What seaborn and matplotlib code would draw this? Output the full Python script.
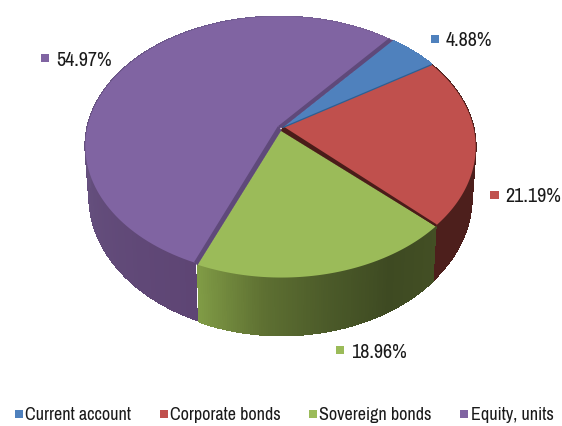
import numpy as np
import matplotlib
matplotlib.use("Agg")
import matplotlib.pyplot as plt
from matplotlib import font_manager as fm
from matplotlib.collections import PolyCollection
from matplotlib.colors import to_rgb
from matplotlib.lines import Line2D
import seaborn as sns

categories = ["Current account", "Corporate bonds", "Sovereign bonds", "Equity, units"]
shares = [4.88, 21.19, 18.96, 54.97]
colors = ["#4f81bd", "#c0504d", "#9bbb59", "#8064a2"]
label_x = [435, 494.5, 340, 45]
label_y = [39, 195, 350, 58]

sns.set_theme(style="white")
narrow = sorted({f.name for f in fm.fontManager.ttflist if "Narrow" in f.name or "Condensed" in f.name})
family = narrow[0] if narrow else "Liberation Sans"
plt.rcParams["font.family"] = [family, "DejaVu Sans"]

W, H = 562, 426
fig = plt.figure(figsize=(W / 100, H / 100), dpi=100)
ax = fig.add_axes([0, 0, 1, 1])
ax.set_xlim(0, W)
ax.set_ylim(H, 0)
ax.axis("off")

# perspective projection of the unit disc
CX, CY, B, A, K = 281, 128, 191.5, 126.6, 0.1506
WALL_SCALE_X, WALL_SCALE_Y, WALL_DROP = 0.98, 1.06, 49
START = 40
offsets = [(1.5, -0.5), (1, -0.5), (0.5, 0.5), (-2, -1.5)]
tips = [(283, 127.5), (283, 127.5), (281, 131), (279, 127)]
wall_stops = [
    ["#4f81bd", "#4f81bd"],
    ["#4d1f1c", "#4d1f1c"],
    ["#434f24", "#3e4a22", "#4b5a29", "#5e7032", "#7f9a45"],
    ["#5e4574", "#66517f", "#6e5a8e", "#7c6399"],
]


def project(theta_deg):
    t = np.radians(theta_deg)
    u, v = np.sin(t), np.cos(t)
    d = 1 + K * v
    return B * u / d, -A * v / d


bounds = START + np.cumsum([0] + shares) * 3.6
rims = []
for i, (a0, a1) in enumerate(zip(bounds[:-1], bounds[1:])):
    th = np.linspace(a0, a1, 120)
    x, y = project(th)
    ox, oy = offsets[i]
    top = np.column_stack([x + CX + ox, y + CY + oy])
    low = np.column_stack([x * WALL_SCALE_X + CX + ox, y * WALL_SCALE_Y + CY + oy + WALL_DROP])
    stops = np.array([to_rgb(c) for c in wall_stops[i]])
    f = np.linspace(0, 1, len(th) - 1)
    pos = np.linspace(0, 1, len(stops))
    seg_col = np.column_stack([np.interp(f, pos, stops[:, c]) for c in range(3)])
    quads = [np.vstack([top[j], top[j + 1], low[j + 1], low[j]]) for j in range(len(th) - 1)]
    ax.add_collection(PolyCollection(quads, facecolors=seg_col, edgecolors=seg_col,
                                     linewidths=0.6, antialiaseds=False))
    rims.append(top)


# exposed cut faces between slices, each filling the gap between two neighbouring edges
def band(tip_a, rim_a, tip_b, rim_b, color):
    xs = [tip_a[0], rim_a[0], rim_b[0], tip_b[0]]
    ys = [tip_a[1], rim_a[1], rim_b[1], tip_b[1]]
    ax.fill(xs, ys, color=color, lw=0.8, zorder=2)


band(tips[1], rims[1][-1], tips[2], rims[2][0], "#4a1c19")
band(tips[2], rims[2][-1], tips[3], rims[3][0], "#5f497a")
band(tips[3], rims[3][-1], tips[0], rims[0][0], "#5f497a")
band(tips[0], rims[0][-1], tips[1], rims[1][0], "#2f5f92")

for i in [3, 2, 1, 0]:
    poly = np.vstack([tips[i], rims[i]])
    ax.fill(poly[:, 0], poly[:, 1], color=colors[i], lw=0, zorder=3)

# thin dark seams on the slice edges
for tip, rim, col, lw in [(tips[1], rims[1][-1], "#4a1c19", 1.6),
                          (tips[3], rims[3][0], "#5f497a", 2.0),
                          (tips[3], rims[3][-1], "#5f497a", 1.8),
                          (tips[1], rims[1][0], "#2f5f92", 0.9)]:
    ax.plot([tip[0], rim[0]], [tip[1], rim[1]], color=col, lw=lw, zorder=4, solid_capstyle="butt")

# data labels
sns.scatterplot(x=label_x, y=label_y, hue=categories, hue_order=categories, palette=colors,
                marker="s", s=34, linewidth=0, legend=False, ax=ax, zorder=5)
ax.set_xlim(0, W)
ax.set_ylim(H, 0)
for x, y, v in zip(label_x, label_y, shares):
    ax.text(x + 11, y + 2, f"{v:.2f}%", fontsize=14.5, color="#1a1a1a", va="center", ha="left", zorder=6)

handles = [Line2D([], [], ls="", marker="s", ms=6, mew=0, color=c) for c in colors]
ax.legend(handles, categories, loc="center", bbox_to_anchor=(283.5 / W, (H - 415) / H),
          ncol=4, frameon=False, fontsize=13, handlelength=0.6, handletextpad=0.05,
          columnspacing=1.5, labelcolor="#1a1a1a", borderpad=0, borderaxespad=0)

fig.savefig("out.png", dpi=100, facecolor="white")
